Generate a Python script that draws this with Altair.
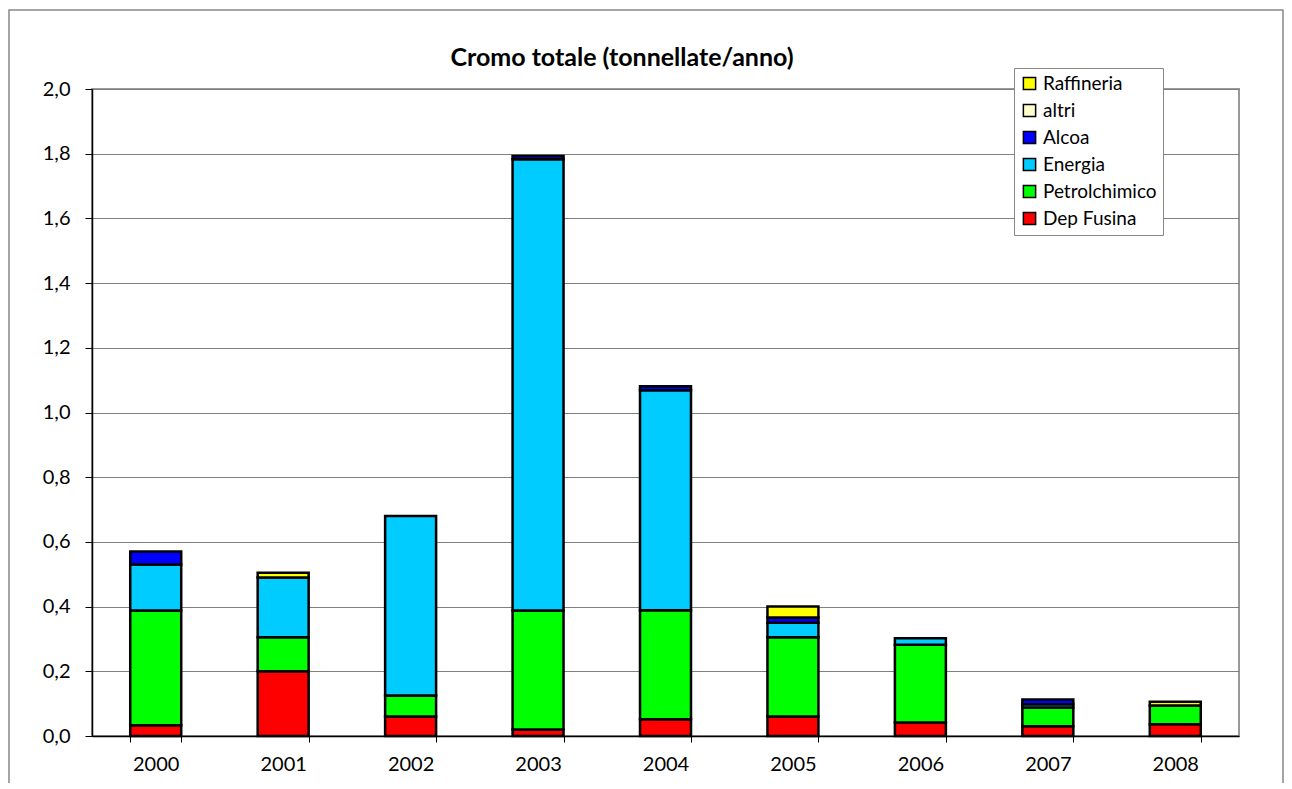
import altair as alt
import pandas as pd

years = ["2000", "2001", "2002", "2003", "2004", "2005", "2006", "2007", "2008"]
series = ["Dep Fusina", "Petrolchimico", "Energia", "Alcoa", "altri", "Raffineria"]
colors = ["#FF0000", "#00FF00", "#00CCFF", "#0000FF", "#FFFFCC", "#FFFF00"]

dep_fusina = [0.033, 0.200, 0.060, 0.020, 0.052, 0.060, 0.042, 0.030, 0.036]
petrolchimico = [0.355, 0.105, 0.065, 0.368, 0.337, 0.245, 0.240, 0.058, 0.058]
energia = [0.142, 0.185, 0.555, 1.395, 0.680, 0.045, 0.020, 0.010, 0.000]
alcoa = [0.040, 0.000, 0.000, 0.010, 0.012, 0.016, 0.000, 0.015, 0.000]
altri = [0.000, 0.000, 0.000, 0.000, 0.000, 0.000, 0.000, 0.000, 0.000]
raffineria = [0.000, 0.015, 0.000, 0.000, 0.000, 0.034, 0.000, 0.000, 0.012]

y_ticks = [0.0, 0.2, 0.4, 0.6, 0.8, 1.0, 1.2, 1.4, 1.6, 1.8, 2.0]
title_text = "Cromo totale (tonnellate/anno)"

values = [dep_fusina, petrolchimico, energia, alcoa, altri, raffineria]
rows = []
for si, (name, vals) in enumerate(zip(series, values)):
    for y, v in zip(years, vals):
        rows.append({"anno": y, "serie": name, "valore": v, "ordine": si})
df = pd.DataFrame(rows)

FONT = "Lato"
W, H = 1147, 647

bars = alt.Chart(df).transform_filter("datum.valore > 0").mark_bar(
    stroke="black", strokeWidth=2.5
).encode(
    x=alt.X("anno:N", title=None, sort=years,
            scale=alt.Scale(paddingInner=0.6, paddingOuter=0.3),
            axis=alt.Axis(labelAngle=0, tickBand="extent", tickSize=6,
                          labelPadding=12, labelFontSize=20, labelFont=FONT,
                          labelColor="black", domainColor="black",
                          tickColor="black", domainWidth=1.5, grid=False)),
    y=alt.Y("sum(valore):Q", title=None, stack="zero",
            scale=alt.Scale(domain=[0, 2.0], nice=False),
            axis=alt.Axis(values=y_ticks, tickSize=7, labelPadding=15,
                          labelFontSize=20, labelFont=FONT, labelColor="black",
                          labelExpr="replace(format(datum.value, '.1f'), '.', ',')",
                          domainColor="black", tickColor="black", domainWidth=1.5,
                          grid=True, gridColor="#808080", gridWidth=1.2)),
    color=alt.Color("serie:N",
                    scale=alt.Scale(domain=series[::-1], range=colors[::-1]),
                    legend=alt.Legend(title=None, orient="none", legendX=922,
                                      legendY=-21, symbolType="square",
                                      symbolSize=150, symbolStrokeColor="black",
                                      symbolStrokeWidth=1.5, labelFontSize=19,
                                      labelFont=FONT, labelColor="black",
                                      rowPadding=7, labelOffset=4, padding=6,
                                      fillColor="white", strokeColor="#888888")),
    order=alt.Order("ordine:Q", sort="ascending"),
)

frame = alt.Chart(alt.Data(values=[{}])).mark_rect(
    fill=None, stroke="#888888", strokeWidth=1.5
).encode(
    x=alt.value(-83), x2=alt.value(W + 44), y=alt.value(-79), y2=alt.value(H + 200)
)

title = alt.Chart(alt.Data(values=[{"t": title_text}])).mark_text(
    font=FONT, fontSize=25, fontWeight="bold", color="black",
    align="center", baseline="middle"
).encode(text="t:N", x=alt.value(530), y=alt.value(-31))

chart = alt.layer(frame, bars, title).properties(
    width=W, height=H,
    autosize=alt.AutoSizeParams(type="none"),
    padding={"left": 84, "top": 81, "right": 45, "bottom": 47},
).configure_view(stroke="#999999", strokeWidth=2)

chart.save("out.html", embed_options={"renderer": "svg", "actions": False})
